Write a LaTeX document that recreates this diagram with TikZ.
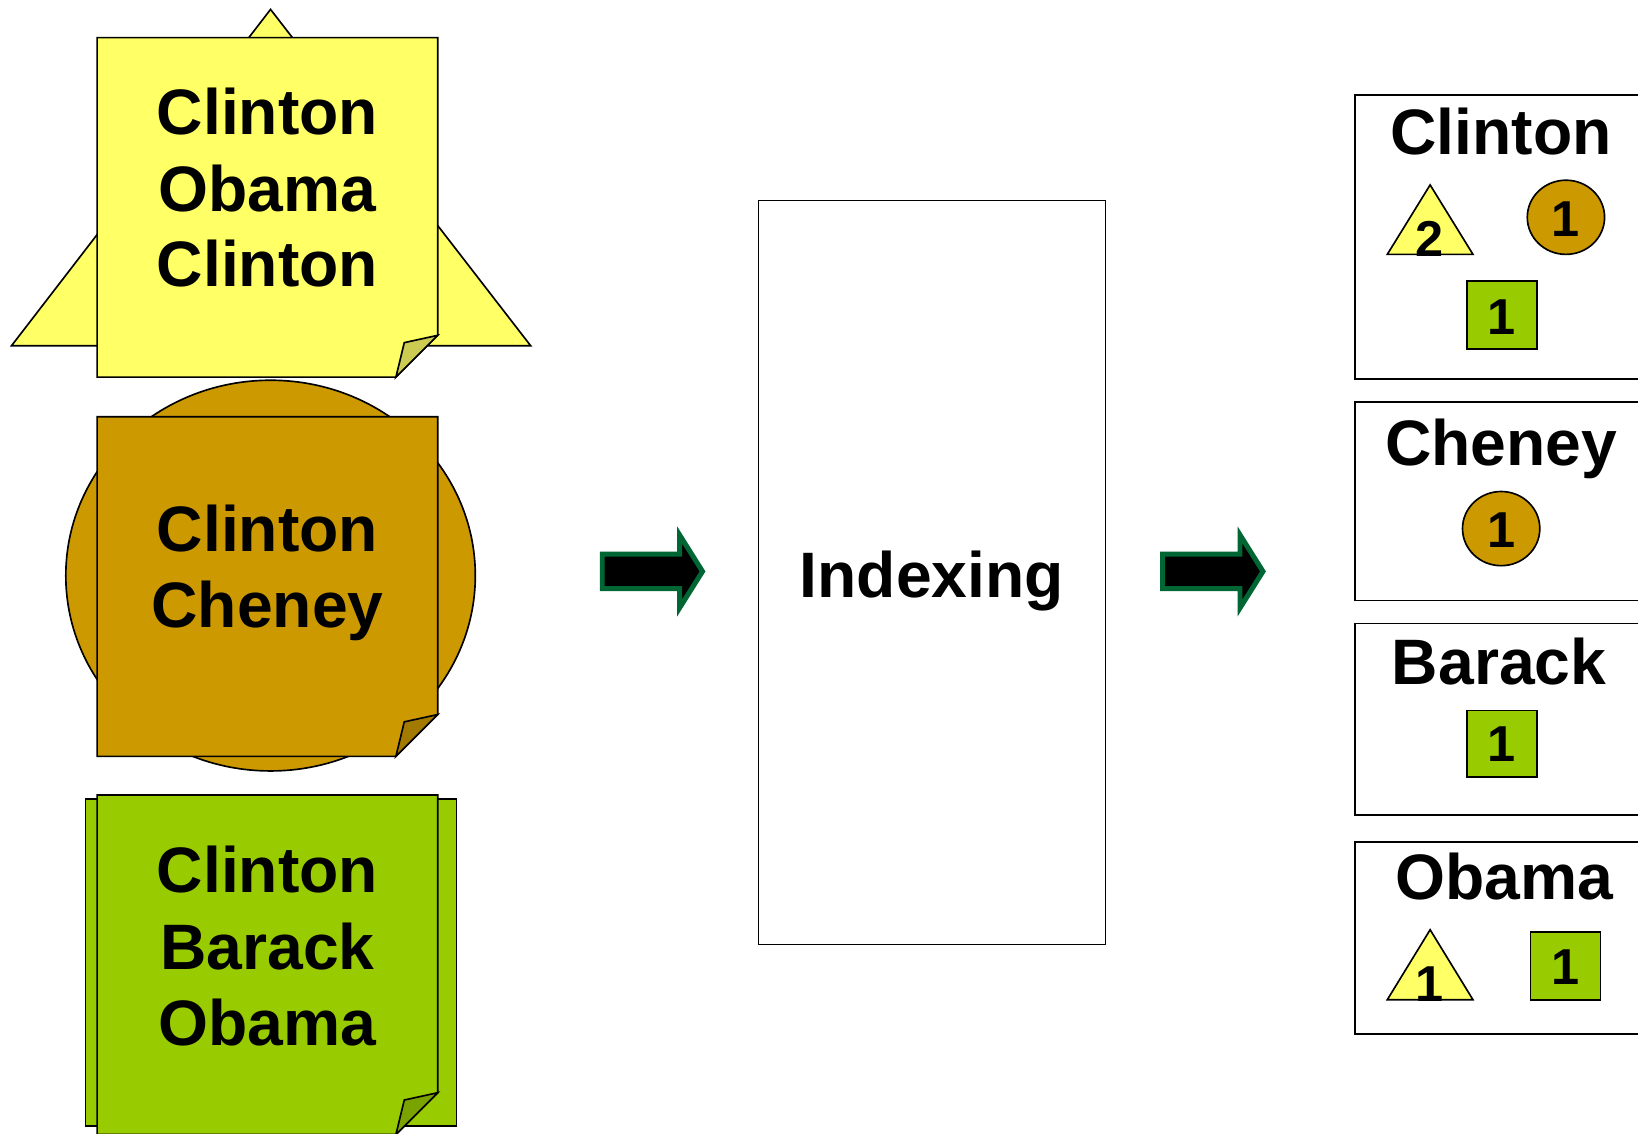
\documentclass[tikz,border=0pt]{standalone}
\usepackage{fontspec}
\setmainfont{Liberation Sans}
\definecolor{noteyellow}{HTML}{FFFF66}
\definecolor{flapyellow}{HTML}{CCCC52}
\definecolor{notebrown}{HTML}{CC9900}
\definecolor{flapbrown}{HTML}{A37A00}
\definecolor{notegreen}{HTML}{99CC00}
\definecolor{flapgreen}{HTML}{7AA300}
\definecolor{arrowgreen}{HTML}{006633}
\tikzset{
  outline/.style={draw=black, line width=0.9pt, line join=miter},
  thinbox/.style={draw=black, line width=0.8pt},
  bigword/.style={font=\fontsize{35}{40}\selectfont\bfseries, inner sep=0pt, anchor=base},
  numlabel/.style={font=\fontsize{27.5}{30}\selectfont\bfseries, inner sep=0pt, anchor=base},
  blockarrow/.style={fill=black, draw=arrowgreen, line width=2.7pt, line join=miter},
  pics/stickynote/.style 2 args={code={
    \filldraw[fill=#1, outline] (0,0) -- (326,0) -- (326,285) -- (286,325) -- (0,325) -- cycle;
    \filldraw[fill=#2, outline] (326,285) -- (294,292) -- (286,325) -- cycle;
  }},
  pics/fatarrow/.style={code={
    \filldraw[blockarrow] (0,0) -- (74,0) -- (74,-18.5) -- (96,16.5) -- (74,51.5) -- (74,33) -- (0,33) -- cycle;
  }}
}
\begin{document}
\begin{tikzpicture}[x=0.02cm, y=-0.02cm]
\useasboundingbox (0,0) rectangle (1568,1085);
\begin{scope}
\clip (0,0) rectangle (1568,1085);

% ---- documents on the left ----
% yellow document: triangle behind a sticky note
\filldraw[fill=noteyellow, outline] (259,9) -- (508,331) -- (11,331) -- cycle;
\pic at (93,36) {stickynote={noteyellow}{flapyellow}};
\node[bigword] (ya) at (256,129) {Clinton};
\node[bigword] (yb) at (256,202) {Obama};
\node[bigword] (yc) at (256,274) {Clinton};

% brown document: disc behind a sticky note
\filldraw[fill=notebrown, outline] (259,551) ellipse [x radius=196, y radius=187];
\pic at (93,399) {stickynote={notebrown}{flapbrown}};
\node[bigword] (ba) at (256,528) {Clinton};
\node[bigword] (bb) at (256,601) {Cheney};

% green document: square behind a sticky note
\filldraw[fill=notegreen, outline] (82,765) rectangle (437,1078);
\pic at (93,761) {stickynote={notegreen}{flapgreen}};
\node[bigword] (ga) at (256,854) {Clinton};
\node[bigword] (gb) at (256,928) {Barack};
\node[bigword] (gc) at (256,1001) {Obama};

% ---- indexing step ----
\pic at (576.5,530.5) {fatarrow};
\node[thinbox, minimum width=332*0.02cm, minimum height=712*0.02cm, inner sep=0pt] (idx) at (892,548) {};
\node[bigword] (idxlabel) at (892,572) {Indexing};
\pic at (1113,530.5) {fatarrow};

% ---- inverted index on the right ----
\draw[thinbox] (1297,91) rectangle (1580,363);
\node[bigword] (tclinton) at (1437,148) {Clinton};
\filldraw[fill=noteyellow, outline] (1369,177) -- (1410,243.5) -- (1328,243.5) -- cycle;
\node[numlabel] (c1) at (1368,245.5) {2};
\filldraw[fill=notebrown, outline] (1499,208) ellipse [x radius=37, y radius=35.5];
\node[numlabel] (c2) at (1499,226.5) {1};
\filldraw[fill=notegreen, outline] (1404,269) rectangle (1471,334);
\node[numlabel] (c3) at (1437.5,320.5) {1};

\draw[thinbox] (1297,385) rectangle (1580,575);
\node[bigword] (tcheney) at (1437,446) {Cheney};
\filldraw[fill=notebrown, outline] (1437,506) ellipse [x radius=37, y radius=35.5];
\node[numlabel] (h1) at (1437,524) {1};

\draw[thinbox] (1297,597) rectangle (1580,780);
\node[bigword] (tbarack) at (1435,655) {Barack};
\filldraw[fill=notegreen, outline] (1404,680) rectangle (1471,744);
\node[numlabel] (r1) at (1437.5,729) {1};

\draw[thinbox] (1297,806) rectangle (1580,990);
\node[bigword] (tobama) at (1440,861) {Obama};
\filldraw[fill=noteyellow, outline] (1369,890) -- (1410,957) -- (1328,957) -- cycle;
\node[numlabel] (o1) at (1368,959) {1};
\filldraw[fill=notegreen, outline] (1465,892) rectangle (1532,957);
\node[numlabel] (o2) at (1498.5,942) {1};
\end{scope}
\end{tikzpicture}
\end{document}
